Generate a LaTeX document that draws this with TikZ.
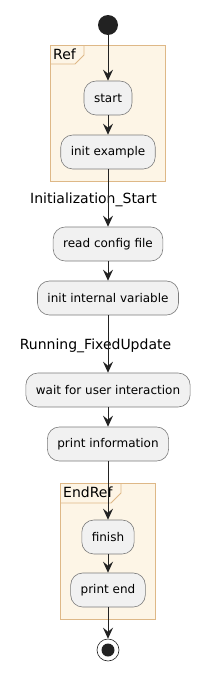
\documentclass[tikz,border=0pt]{standalone}
\usepackage{fontspec}
\usepackage{xcolor}
\newfontfamily\umlfont{DejaVu Sans}
\usetikzlibrary{arrows.meta,positioning}
\definecolor{actfill}{HTML}{F1F1F1}
\definecolor{actdraw}{HTML}{7A7A7A}
\definecolor{grpfill}{HTML}{FDF5E6}
\definecolor{grpdraw}{HTML}{DEB887}
\definecolor{umldark}{HTML}{222222}
\tikzset{
  umlact/.style={
    rectangle, rounded corners=12pt, draw=actdraw, fill=actfill, line width=0.6pt,
    minimum height=34pt, inner xsep=10pt, font=\umlfont\fontsize{12}{14}\selectfont
  },
  umlstart/.style={circle, fill=umldark, minimum size=20pt, inner sep=0pt},
  umlstop/.style={circle, draw=umldark, fill=white, line width=0.6pt, minimum size=22pt, inner sep=0pt},
  umldot/.style={circle, fill=umldark, minimum size=13pt, inner sep=0pt},
  umledge/.style={-{Stealth[length=11pt,width=10pt,inset=4pt]}, line width=1pt, draw=umldark},
  umlgroup/.style={draw=grpdraw, fill=grpfill, line width=0.8pt},
  umltab/.style={draw=grpdraw, line width=0.8pt},
  umltitle/.style={anchor=west, inner sep=0pt, font=\umlfont\fontsize{14}{16}\selectfont},
  umllabel/.style={inner sep=0pt, font=\umlfont\fontsize{14}{16}\selectfont}
}

\begin{document}
\begin{tikzpicture}[x=1pt,y=-1pt]
  \useasboundingbox (0,0) rectangle (219,680);
  % groups
  \draw[umlgroup] (50,45) rectangle (165,181);
  \draw[umltab] (84,45) -- (84,55) -- (75,64) -- (50,64);
  \node[umltitle] (reftitle) at (53,54.5) {Ref};
  \draw[umlgroup] (60,483) rectangle (155,619);
  \draw[umltab] (121,483) -- (121,493) -- (111,503) -- (60,503);
  \node[umltitle] (endreftitle) at (63,492.5) {EndRef};
  % nodes
  \node[umlstart] (start) at (108,25) {};
  \node[umlact] (actstart) at (108,98) {start};
  \node[umlact] (initex) at (108,152) {init example};
  \node[umllabel] (initlbl) at (93.5,200) {Initialization\_Start};
  \node[umlact] (readcfg) at (108,244) {read config file};
  \node[umlact] (initvar) at (108,298) {init internal variable};
  \node[umllabel] (runlbl) at (95.5,346) {Running\_FixedUpdate};
  \node[umlact] (waituser) at (108,390) {wait for user interaction};
  \node[umlact] (printinfo) at (108,444) {print information};
  \node[umlact] (finish) at (108,537) {finish};
  \node[umlact] (printend) at (108,590) {print end};
  \node[umlstop] (stop) at (108,650) {};
  \node[umldot] (stopdot) at (stop) {};
  % connectors
  \draw[umledge] (start) -- (actstart);
  \draw[umledge] (actstart) -- (initex);
  \draw[umledge] (initex) -- (readcfg);
  \draw[umledge] (readcfg) -- (initvar);
  \draw[umledge] (initvar) -- (waituser);
  \draw[umledge] (waituser) -- (printinfo);
  \draw[umledge] (printinfo) -- (finish);
  \draw[umledge] (finish) -- (printend);
  \draw[umledge] (printend) -- (stop);
\end{tikzpicture}
\end{document}
